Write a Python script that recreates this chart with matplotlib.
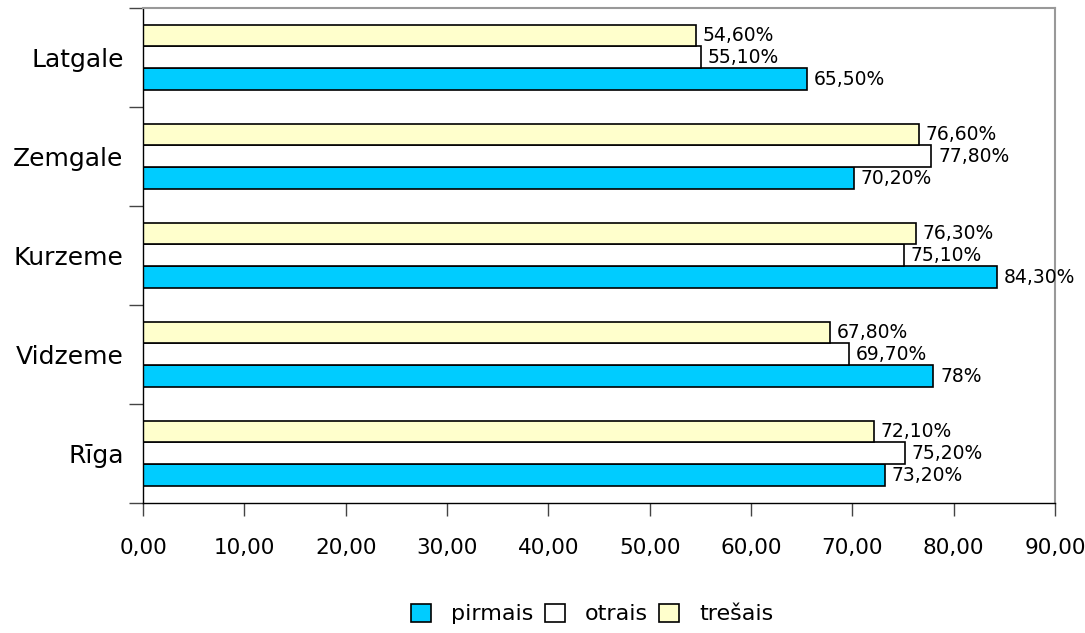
import numpy as np
from matplotlib import pyplot as plt
from matplotlib.patches import Patch

# regions, bottom to top
regions = ["Rīga", "Vidzeme", "Kurzeme", "Zemgale", "Latgale"]
series_names = ["pirmais", "otrais", "trešais"]
pirmais = [73.2, 78.0, 84.3, 70.2, 65.5]
otrais = [75.2, 69.7, 75.1, 77.8, 55.1]
tresais = [72.1, 67.8, 76.3, 76.6, 54.6]
pirmais_labels = ["73,20%", "78%", "84,30%", "70,20%", "65,50%"]
otrais_labels = ["75,20%", "69,70%", "75,10%", "77,80%", "55,10%"]
tresais_labels = ["72,10%", "67,80%", "76,30%", "76,60%", "54,60%"]
x_ticks = [0, 10, 20, 30, 40, 50, 60, 70, 80, 90]
x_tick_labels = ["0,00", "10,00", "20,00", "30,00", "40,00",
                 "50,00", "60,00", "70,00", "80,00", "90,00"]

colors = ["#00CCFF", "#FFFFFF", "#FFFFCC"]

fig = plt.figure(figsize=(10.85, 6.33), dpi=100)
ax = fig.add_axes([0.1318, 0.2054, 0.8406, 0.782])

y = np.arange(len(regions))
h = 0.222
values = [pirmais, otrais, tresais]
labels = [pirmais_labels, otrais_labels, tresais_labels]
offsets = [-h, 0, h]

for vals, labs, off, col in zip(values, labels, offsets, colors):
    ax.barh(y + off, vals, height=h, color=col, edgecolor="black", linewidth=1.2)
    for yi, v, lab in zip(y + off, vals, labs):
        ax.text(v + 0.65, yi, lab, va="center", ha="left", fontsize=13.5)

ax.set_xlim(0, 90)
ax.set_ylim(-0.5, 4.5)
ax.set_xticks(x_ticks)
ax.set_xticklabels(x_tick_labels, fontsize=15.5)
ax.set_yticks(y)
ax.set_yticklabels(regions, fontsize=18)
ax.set_yticks(np.arange(-0.5, 5.0, 1.0), minor=True)
ax.tick_params(axis="y", which="major", length=0, pad=14)
ax.tick_params(axis="y", which="minor", length=10, width=1, color="#444444")
ax.tick_params(axis="x", which="major", length=9, width=1, color="#444444", pad=16)

for s in ["top", "right"]:
    ax.spines[s].set_color("#999999")
    ax.spines[s].set_linewidth(1.5)
for s in ["left", "bottom"]:
    ax.spines[s].set_color("black")
    ax.spines[s].set_linewidth(1)

handles = [Patch(facecolor=c, edgecolor="black", linewidth=1.2) for c in colors]
fig.legend(handles, series_names, loc="lower center", bbox_to_anchor=(0.546, -0.018),
           ncol=3, frameon=False, fontsize=16, handlelength=0.9, handleheight=0.9,
           handletextpad=0.9, columnspacing=0.5)

fig.savefig("out.png", dpi=100)
